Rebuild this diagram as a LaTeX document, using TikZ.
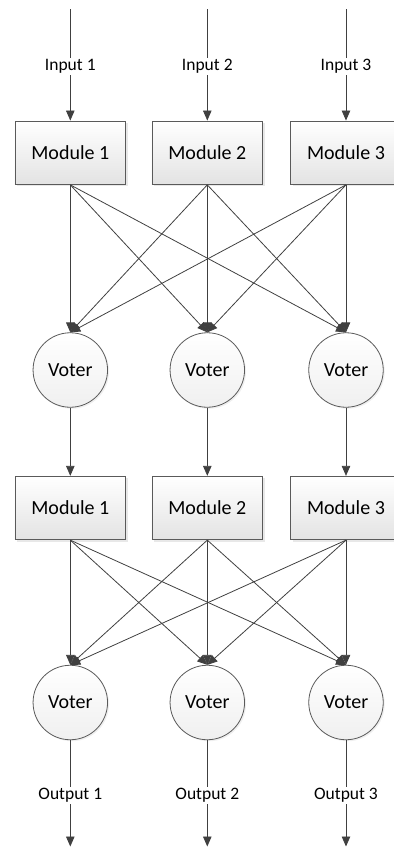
\documentclass[tikz,border=0pt]{standalone}
\usepackage{fontspec}
\setmainfont{Carlito}
\usetikzlibrary{arrows.meta,shadows}
\definecolor{linec}{HTML}{404040}
\definecolor{edgec}{HTML}{5A5A5A}
\tikzset{
  modbox/.style={draw=edgec, line width=0.8pt, rectangle, minimum width=110.7pt, minimum height=63.5pt, inner sep=0pt,
    top color=white, bottom color=black!11, font=\fontsize{20}{24}\selectfont,
    drop shadow={shadow xshift=2pt, shadow yshift=-2pt, fill=black!15, opacity=0.6}},
  voter/.style={draw=edgec, line width=0.8pt, circle, minimum size=74.5pt, inner sep=0pt,
    top color=white, bottom color=black!6, font=\fontsize{20}{24}\selectfont,
    drop shadow={shadow xshift=1.5pt, shadow yshift=-1.5pt, fill=black!12, opacity=0.5}},
  lbl/.style={inner sep=1.5pt, font=\fontsize{17.5}{21}\selectfont},
  conn/.style={draw=linec, line width=0.8pt, -{Triangle[length=10pt,width=8.5pt]}},
  plain/.style={draw=linec, line width=0.8pt}
}
\begin{document}
\begin{tikzpicture}[x=1pt,y=-1pt]
\useasboundingbox (0,0) rectangle (394,847);
\foreach \i/\x in {1/70.3,2/207.3,3/346} {
  \coordinate (top\i) at (\x,9);
  \node[lbl] (in\i) at (\x,66.7) {Input \i};
  \node[modbox] (ma\i) at (\x,152.7) {Module \i};
  \node[voter] (va\i) at (\x,370) {Voter};
  \node[modbox] (mb\i) at (\x,508) {Module \i};
  \node[voter] (vb\i) at (\x,702.5) {Voter};
  \node[lbl] (out\i) at (\x,795.5) {Output \i};
  \coordinate (bot\i) at (\x,846.5);
}
\foreach \i in {1,2,3} {
  \draw[plain] (top\i) -- (in\i);
  \draw[conn] (in\i) -- (ma\i.north);
  \draw[conn] (va\i.south) -- (mb\i.north);
  \draw[plain] (vb\i.south) -- (out\i);
  \draw[conn] (out\i) -- (bot\i);
}
\foreach \i in {1,2,3} {
  \foreach \j in {1,2,3} {
    \draw[conn] (ma\i.south) -- (va\j.north);
    \draw[conn] (mb\i.south) -- (vb\j.north);
  }
}
\end{tikzpicture}
\end{document}
